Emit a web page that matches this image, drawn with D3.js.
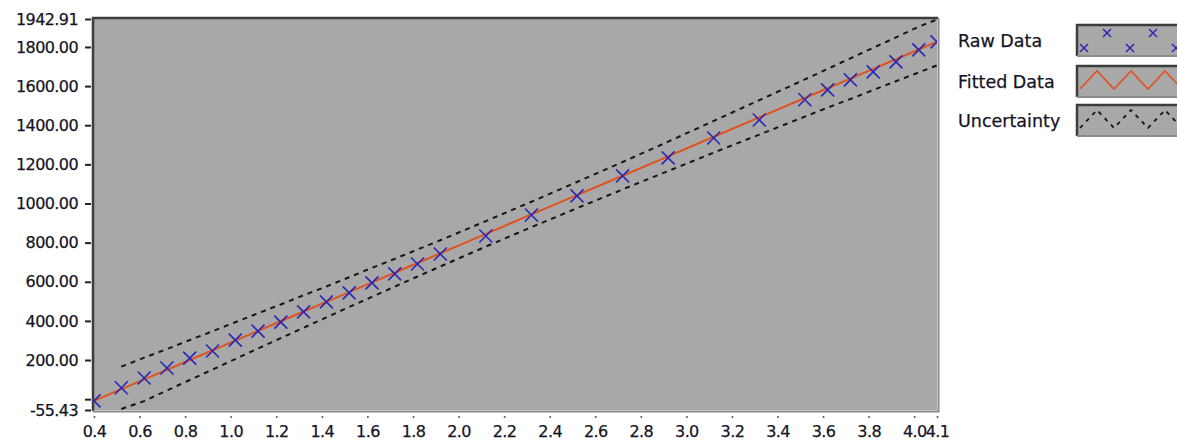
<!DOCTYPE html>
<html lang="en">
<head>
  <meta charset="UTF-8">
  <title>Fit with Uncertainty</title>
  <script src="https://d3js.org/d3.v7.min.js"></script>
  <style>
    body { margin: 0; background: #fff; }
    text { font-family: "DejaVu Sans", sans-serif; fill: #141424; }
  </style>
</head>
<body>
  <div id="chart"></div>

  <script>
    // raw measurements
    const rawX = [0.4, 0.52, 0.62, 0.72, 0.82, 0.92, 1.02, 1.12, 1.22, 1.32, 1.42, 1.52, 1.62, 1.72, 1.82,
                  1.92, 2.12, 2.32, 2.52, 2.72, 2.92, 3.12, 3.32, 3.52, 3.62, 3.72, 3.82, 3.92, 4.02, 4.1];
    const rawY = [-9, 58, 108, 159, 210, 246, 302, 348, 394, 446, 497, 543, 594, 640, 691,
                  742, 834, 941, 1039, 1141, 1233, 1335, 1427, 1530, 1581, 1632, 1673, 1724, 1785, 1826];

    // fitted line
    const fitY = [-9, 51, 101, 150, 200, 249, 299, 349, 398, 448, 497, 547, 597, 646, 696,
                  745, 845, 944, 1043, 1142, 1241, 1341, 1440, 1539, 1589, 1638, 1688, 1737, 1787, 1827];

    // uncertainty band (starts at second sample)
    const bandX = rawX.slice(1);
    const upperY = [166, 212, 256, 302, 347, 393, 439, 484, 531, 576, 623, 671, 717, 765,
                    812, 910, 1009, 1110, 1212, 1316, 1422, 1528, 1634, 1688, 1742, 1796, 1849, 1904, 1940];
    const lowerY = [-50, -10, 44, 98, 151, 205, 259, 312, 365, 418, 471, 523, 575, 627,
                    678, 780, 879, 976, 1072, 1166, 1260, 1352, 1444, 1490, 1534, 1580, 1625, 1670, 1706];

    const yTicks = [1942.91, 1800, 1600, 1400, 1200, 1000, 800, 600, 400, 200, 0, -55.43];
    const xTicks = [0.4, 0.6, 0.8, 1.0, 1.2, 1.4, 1.6, 1.8, 2.0, 2.2, 2.4, 2.6, 2.8, 3.0, 3.2, 3.4, 3.6, 3.8, 4.0, 4.1];

    const legendNames = ["Raw Data", "Fitted Data", "Uncertainty"];
    const legendZig = [0, 1, 0, 1, 0, 1, 0, 1];

    const width = 1177, height = 445;
    const plot = {left: 94, right: 937, top: 19, bottom: 410};

    const svg = d3.select("#chart").append("svg")
      .attr("width", width)
      .attr("height", height);

    const x = d3.scaleLinear().domain([0.4, 4.1]).range([plot.left, plot.right]);
    const y = d3.scaleLinear().domain([-55.43, 1942.91]).range([plot.bottom, plot.top]);

    // plot background with sunken frame
    svg.append("rect")
      .attr("x", plot.left).attr("y", plot.top)
      .attr("width", plot.right - plot.left).attr("height", plot.bottom - plot.top)
      .attr("fill", "#a8a8a8");
    svg.append("path")
      .attr("d", `M${plot.left - 1},${plot.bottom + 1}V${plot.top - 1}H${plot.right + 1}`)
      .attr("fill", "none").attr("stroke", "#3c3c3c").attr("stroke-width", 2.5);
    svg.append("path")
      .attr("d", `M${plot.right + 1.5},${plot.top - 1}V${plot.bottom + 1.5}H${plot.left - 1}`)
      .attr("fill", "none").attr("stroke", "#8a8a8a").attr("stroke-width", 2);

    svg.append("clipPath").attr("id", "clip")
      .append("rect")
      .attr("x", plot.left).attr("y", plot.top)
      .attr("width", plot.right - plot.left).attr("height", plot.bottom - plot.top);

    const g = svg.append("g").attr("clip-path", "url(#clip)");

    const line = d3.line().x(d => x(d[0])).y(d => y(d[1]));

    // uncertainty bounds
    [upperY, lowerY].forEach(arr => {
      g.append("path")
        .datum(bandX.map((v, i) => [v, arr[i]]))
        .attr("d", line)
        .attr("fill", "none")
        .attr("stroke", "#151515")
        .attr("stroke-width", 2)
        .attr("stroke-dasharray", "5,5");
    });

    // fitted line
    g.append("path")
      .datum(rawX.map((v, i) => [v, fitY[i]]))
      .attr("d", line)
      .attr("fill", "none")
      .attr("stroke", "#e2521e")
      .attr("stroke-width", 2);

    // raw data markers
    const cross = "M-6.5,-6.5L6.5,6.5M-6.5,6.5L6.5,-6.5";
    g.selectAll("path.raw")
      .data(rawX.map((v, i) => [v, rawY[i]]))
      .join("path")
        .attr("class", "raw")
        .attr("transform", d => `translate(${x(d[0])},${y(d[1])})`)
        .attr("d", cross)
        .attr("fill", "none")
        .attr("stroke", "#2828b4")
        .attr("stroke-width", 1.6);

    // y axis
    const yAxis = svg.append("g")
      .attr("transform", `translate(${plot.left - 3},0)`)
      .call(d3.axisLeft(y)
        .tickValues(yTicks)
        .tickSize(6)
        .tickPadding(7)
        .tickFormat(d => d === 0 ? "" : d.toFixed(2)));
    yAxis.select(".domain").remove();
    yAxis.selectAll(".tick line").attr("stroke", "#222").attr("stroke-width", 2);
    yAxis.selectAll("text").attr("font-size", 16).attr("fill", "#141424")
      .attr("font-family", "DejaVu Sans, sans-serif")
      .attr("letter-spacing", -0.6)
      .attr("stroke", "#141424").attr("stroke-width", 0.25);

    // x axis
    const xAxis = svg.append("g")
      .attr("transform", `translate(0,${plot.bottom + 7})`)
      .call(d3.axisBottom(x)
        .tickValues(xTicks)
        .tickSize(0)
        .tickPadding(9)
        .tickFormat(d => d.toFixed(1)));
    xAxis.select(".domain").remove();
    xAxis.selectAll(".tick").append("circle").attr("r", 1).attr("fill", "#555");
    xAxis.selectAll("text").attr("font-size", 16).attr("fill", "#141424")
      .attr("font-family", "DejaVu Sans, sans-serif")
      .attr("letter-spacing", -0.6)
      .attr("stroke", "#141424").attr("stroke-width", 0.25);

    // legend
    const legend = svg.append("g");
    const swX = 1077, swW = 110, swH = 31;
    const swTop = [25, 66, 105];

    legendNames.forEach((name, i) => {
      const top = swTop[i];
      legend.append("text")
        .attr("x", 958).attr("y", top + swH / 2)
        .attr("dy", "0.35em")
        .attr("font-size", 17.5)
        .attr("stroke", "#141424").attr("stroke-width", 0.25)
        .text(name);
      legend.append("rect")
        .attr("x", swX).attr("y", top)
        .attr("width", swW).attr("height", swH)
        .attr("fill", "#a8a8a8");
      legend.append("path")
        .attr("d", `M${swX},${top + swH}V${top}H${swX + swW}`)
        .attr("fill", "none").attr("stroke", "#3c3c3c").attr("stroke-width", 2.5);
      legend.append("path")
        .attr("d", `M${swX},${top + swH}H${swX + swW}`)
        .attr("fill", "none").attr("stroke", "#8a8a8a").attr("stroke-width", 2);

      const sw = legend.append("g");
      if (i === 0) {
        const mx = d3.scaleLinear().domain([0, 1]).range([swX + 7, swX + 30]);
        const my = d3.scaleLinear().domain([0, 1]).range([top + 23, top + 8]);
        sw.selectAll("path")
          .data(legendZig.map((v, k) => [mx(k), my(v)]))
          .join("path")
            .attr("transform", d => `translate(${d[0]},${d[1]})`)
            .attr("d", "M-4,-4L4,4M-4,4L4,-4")
            .attr("fill", "none").attr("stroke", "#2828b4").attr("stroke-width", 1.5);
      } else {
        const lx = d3.scaleLinear().domain([0, 1]).range([swX + 3, swX + 20]);
        const ly = d3.scaleLinear().domain([0, 1]).range([top + 23, top + 5]);
        sw.append("path")
          .datum(legendZig.map((v, k) => [lx(k), ly(v)]))
          .attr("d", d3.line())
          .attr("fill", "none")
          .attr("stroke", i === 1 ? "#e2521e" : "#151515")
          .attr("stroke-width", i === 1 ? 1.6 : 1.8)
          .attr("stroke-dasharray", i === 1 ? null : "4,5");
      }
    });
  </script>
</body>
</html>
